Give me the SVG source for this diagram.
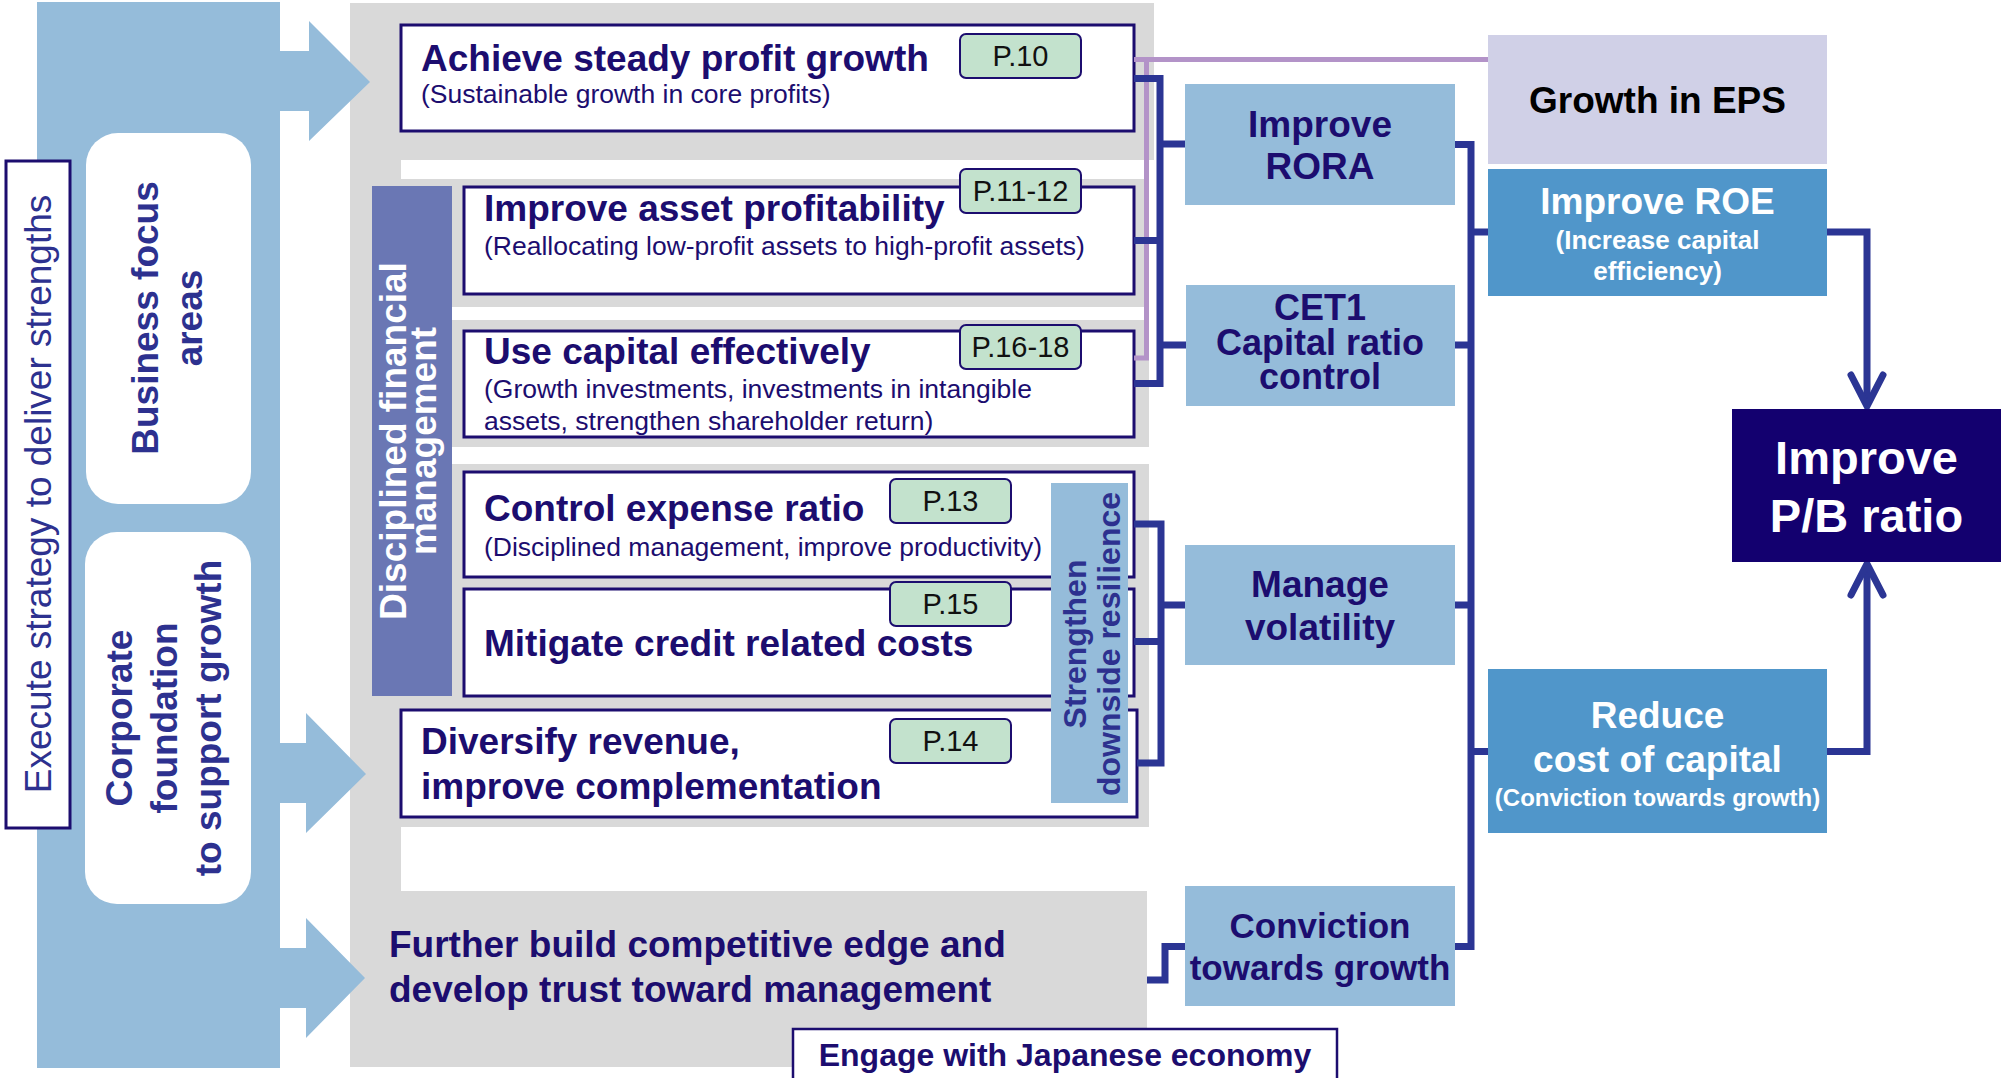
<svg xmlns="http://www.w3.org/2000/svg" width="2001" height="1078" viewBox="0 0 2001 1078">
<style>
text{font-family:"Liberation Sans",Arial,Helvetica,sans-serif}
.t{font-weight:bold;font-size:37px;fill:#1C0D6F}
.s{font-size:26.5px;fill:#1C0D6F}
.rb{font-weight:bold;font-size:37px;fill:#2D318F;text-anchor:middle}
.box{fill:#fff;stroke:#1C0D6F;stroke-width:3}
.badge{fill:#C3E2CD;stroke:#1C0D6F;stroke-width:2}
.bt{font-size:29px;fill:#111;text-anchor:middle}
.gray{fill:#D9D9D9}
.lb{fill:#95BCDA}
.mid{font-weight:bold;font-size:37px;fill:#1C0D6F;text-anchor:middle}
.wt{font-weight:bold;fill:#fff;text-anchor:middle}
.cn{fill:none;stroke:#2B3594;stroke-width:7;stroke-linejoin:miter}
.lav{fill:none;stroke:#B393C8;stroke-width:5}
</style>
<g id="background">
<rect class="gray" x="350" y="3" width="804" height="157"/>
<rect class="gray" x="350" y="3" width="51" height="1064"/>
<rect class="gray" x="401" y="179" width="745" height="128"/>
<rect class="gray" x="401" y="320" width="748" height="127"/>
<rect class="gray" x="401" y="464" width="748" height="363"/>
<rect class="gray" x="350" y="891" width="797" height="176"/>
<path class="lb" d="M37,2 H280 V51 H309 V21 L370,82 L309,141 V111 H280 V743 H306 V713 L366,774 L306,833 V803 H280 V948 H306 V918 L365,978 L306,1038 V1008 H280 V1068 H37 Z"/>
</g>
<g id="execute">
<rect x="6" y="161" width="64" height="667" fill="#fff" stroke="#1C0D6F" stroke-width="3"/>
<text transform="translate(51,494) rotate(-90)" text-anchor="middle" font-size="37" fill="#2D318F">Execute strategy to deliver strengths</text>
</g>
<g id="business-focus">
<rect x="86" y="133" width="165" height="371" rx="32" fill="#fff"/>
<text class="rb" transform="translate(158,318) rotate(-90)">Business focus</text>
<text class="rb" transform="translate(202,318) rotate(-90)">areas</text>
</g>
<g id="corporate-foundation">
<rect x="85" y="532" width="166" height="372" rx="32" fill="#fff"/>
<text class="rb" transform="translate(132,718) rotate(-90)">Corporate</text>
<text class="rb" transform="translate(177,718) rotate(-90)">foundation</text>
<text class="rb" transform="translate(221,718) rotate(-90)">to support growth</text>
</g>
<g id="disciplined">
<rect x="372" y="186" width="80" height="510" fill="#6A77B4"/>
<text class="wt" font-size="37" transform="translate(406,441) rotate(-90)">Disciplined financial</text>
<text class="wt" font-size="37" transform="translate(436,441) rotate(-90)">management</text>
</g>
<g id="achieve">
<rect class="box" x="401" y="25" width="733" height="106"/>
<text class="t" x="421" y="71">Achieve steady profit growth</text>
<text class="s" x="421" y="103">(Sustainable growth in core profits)</text>
<rect class="badge" x="960" y="34" width="121" height="44" rx="6"/>
<text class="bt" x="1020.5" y="66">P.10</text>
</g>
<g id="asset">
<rect class="box" x="464" y="187" width="670" height="107"/>
<text class="t" x="484" y="221">Improve asset profitability</text>
<text class="s" x="484" y="255">(Reallocating low-profit assets to high-profit assets)</text>
<rect class="badge" x="960" y="169" width="121" height="44" rx="6"/>
<text class="bt" x="1020.5" y="201">P.11-12</text>
</g>
<g id="capital">
<rect class="box" x="464" y="331" width="670" height="106"/>
<text class="t" x="484" y="364">Use capital effectively</text>
<text class="s" x="484" y="398">(Growth investments, investments in intangible</text>
<text class="s" x="484" y="430">assets, strengthen shareholder return)</text>
<rect class="badge" x="960" y="325" width="121" height="44" rx="6"/>
<text class="bt" x="1020.5" y="357">P.16-18</text>
</g>
<g id="expense">
<rect class="box" x="464" y="472" width="670" height="105"/>
<text class="t" x="484" y="521">Control expense ratio</text>
<text class="s" x="484" y="556">(Disciplined management, improve productivity)</text>
<rect class="badge" x="890" y="479" width="121" height="44" rx="6"/>
<text class="bt" x="950.5" y="511">P.13</text>
</g>
<g id="credit">
<rect class="box" x="464" y="589" width="670" height="107"/>
<text class="t" x="484" y="656">Mitigate credit related costs</text>
<rect class="badge" x="890" y="582" width="121" height="44" rx="6"/>
<text class="bt" x="950.5" y="614">P.15</text>
</g>
<g id="diversify">
<rect class="box" x="401" y="710" width="736" height="107"/>
<text class="t" x="421" y="754">Diversify revenue,</text>
<text class="t" x="421" y="799">improve complementation</text>
<rect class="badge" x="890" y="719" width="121" height="44" rx="6"/>
<text class="bt" x="950.5" y="751">P.14</text>
</g>
<g id="strengthen">
<rect x="1051" y="483" width="77" height="320" fill="#95BCDA"/>
<text class="rb" style="font-size:32px" transform="translate(1086,644) rotate(-90)">Strengthen</text>
<text class="rb" style="font-size:32px" transform="translate(1120,644) rotate(-90)">downside resilience</text>
</g>
<g id="further">
<text class="t" x="389" y="957">Further build competitive edge and</text>
<text class="t" x="389" y="1002">develop trust toward management</text>
</g>
<g id="engage">
<rect x="793" y="1029" width="544" height="60" fill="#fff" stroke="#1C0D6F" stroke-width="2.5"/>
<text x="1065" y="1066" text-anchor="middle" font-weight="bold" font-size="32" fill="#1C0D6F">Engage with Japanese economy</text>
</g>
<g id="connectors">
<path class="lav" d="M1134,59.5 H1488 M1146.5,59.5 V358 H1134"/>
<path class="cn" d="M1134,78.5 H1160 V383.5 H1134 M1134,240.5 H1160 M1160,144 H1185 M1160,345 H1186"/>
<path class="cn" d="M1134,524 H1161 V763 H1137 M1134,641.5 H1161 M1161,605 H1185"/>
<path class="cn" d="M1147,980 H1165 V946.5 H1185"/>
<path class="cn" d="M1455,144.5 H1471 V946.5 H1455 M1455,345 H1471 M1455,605 H1471 M1471,232 H1488 M1471,751.5 H1488"/>
<path class="cn" d="M1827,232 H1867 V404"/>
<path class="cn" d="M1851,375 L1867,406 L1883,375" stroke-linecap="round"/>
<path class="cn" d="M1827,751.5 H1867 V566"/>
<path class="cn" d="M1851,595 L1867,564 L1883,595" stroke-linecap="round"/>
</g>
<g id="rora">
<rect x="1185" y="84" width="270" height="121" fill="#95BCDA"/>
<text class="mid" x="1320" y="137">Improve</text>
<text class="mid" x="1320" y="179">RORA</text>
</g>
<g id="cet1">
<rect x="1186" y="285" width="269" height="121" fill="#95BCDA"/>
<text class="mid" x="1320" y="320" style="font-size:36px">CET1</text>
<text class="mid" x="1320" y="355" style="font-size:36px">Capital ratio</text>
<text class="mid" x="1320" y="389" style="font-size:36px">control</text>
</g>
<g id="volatility">
<rect x="1185" y="545" width="270" height="120" fill="#95BCDA"/>
<text class="mid" x="1320" y="597">Manage</text>
<text class="mid" x="1320" y="640">volatility</text>
</g>
<g id="conviction">
<rect x="1185" y="886" width="270" height="120" fill="#95BCDA"/>
<text class="mid" x="1320" y="938" style="font-size:35px">Conviction</text>
<text class="mid" x="1320" y="980" style="font-size:35px">towards growth</text>
</g>
<g id="eps">
<rect x="1488" y="35" width="339" height="129" fill="#D0D0E7"/>
<text x="1657.5" y="113" text-anchor="middle" font-weight="bold" font-size="37" fill="#000">Growth in EPS</text>
</g>
<g id="roe">
<rect x="1488" y="169" width="339" height="127" fill="#5096CA"/>
<text class="wt" x="1657.5" y="214" font-size="37">Improve ROE</text>
<text class="wt" x="1657.5" y="249" font-size="26">(Increase capital</text>
<text class="wt" x="1657.5" y="280" font-size="26">efficiency)</text>
</g>
<g id="cost">
<rect x="1488" y="669" width="339" height="164" fill="#5096CA"/>
<text class="wt" x="1657.5" y="728" font-size="37">Reduce</text>
<text class="wt" x="1657.5" y="772" font-size="37">cost of capital</text>
<text class="wt" x="1657.5" y="806" font-size="24">(Conviction towards growth)</text>
</g>
<g id="pb">
<rect x="1732" y="409" width="269" height="153" fill="#13006F"/>
<text class="wt" x="1866.5" y="474" font-size="47">Improve</text>
<text class="wt" x="1866.5" y="532" font-size="47">P/B ratio</text>
</g>
</svg>
